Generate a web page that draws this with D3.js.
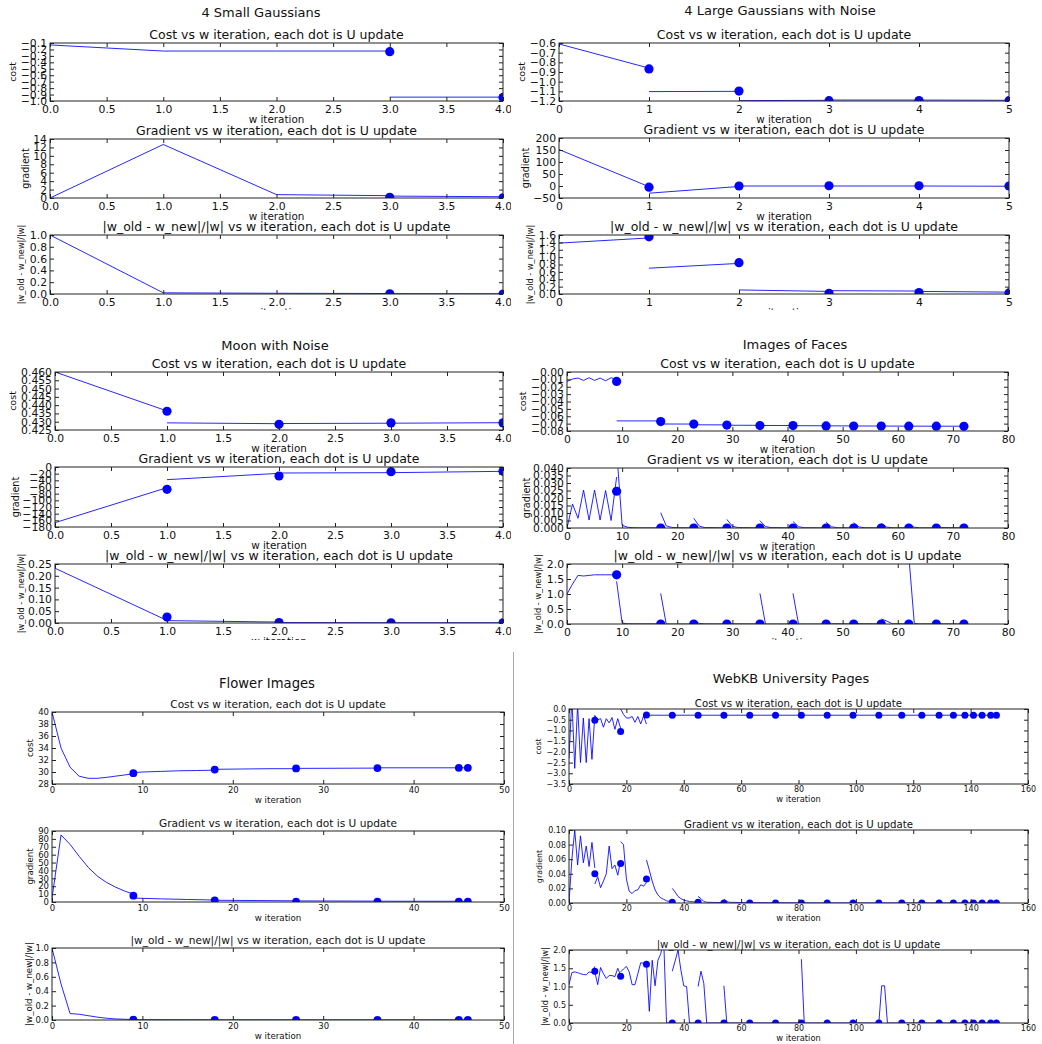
<!DOCTYPE html>
<html lang="en">
<head>
<meta charset="UTF-8">
<title>w iteration convergence</title>
<script src="https://d3js.org/d3.v7.min.js"></script>
<style>
  body { margin: 0; background: #fff; }
  svg { display: block; font-family: "DejaVu Sans", sans-serif; }
  .frame { fill: none; stroke: #222; stroke-width: 1; }
  .series { fill: none; stroke: #0000ff; stroke-width: 1; stroke-opacity: 0.85; }
  .dot { fill: #0000ff; }
  text { fill: #111; }
</style>
</head>
<body>
<svg id="chart" width="1042" height="1044"></svg>
<script>
const FONT = "DejaVu Sans, sans-serif";

const subTitles = [
  "Cost vs w iteration, each dot is U update",
  "Gradient vs w iteration, each dot is U update",
  "|w_old - w_new|/|w| vs w iteration, each dot is U update"
];
const yLabels = ["cost", "gradient", "|w_old - w_new|/|w|"];
const xLabel = "w iteration";

// x tick values
const xTicksHalf = [0, 0.5, 1, 1.5, 2, 2.5, 3, 3.5, 4];
const xTicksFive = [0, 1, 2, 3, 4, 5];
const xTicksFaces = [0, 10, 20, 30, 40, 50, 60, 70, 80];
const xTicksFlower = [0, 10, 20, 30, 40, 50];
const xTicksWeb = [0, 20, 40, 60, 80, 100, 120, 140, 160];

// ---- 4 Small Gaussians ----
const smallCostTicks = [-1.0, -0.9, -0.8, -0.7, -0.6, -0.5, -0.4, -0.3, -0.2, -0.1];
const smallCostLines = [
  [[0, -0.13], [1, -0.225], [2, -0.225], [3, -0.225]],
  [[3, -0.94], [4, -0.94]]
];
const smallCostDots = [[3, -0.235], [4, -0.945]];
const smallGradTicks = [0, 2, 4, 6, 8, 10, 12, 14];
const smallGradLines = [
  [[0, 0], [1, 12.7], [2, 0.8], [3, 0.55]],
  [[3, 0.45], [4, 0.3]]
];
const smallGradDots = [[3, 0.15], [4, 0.05]];
const unitTicks = [0, 0.2, 0.4, 0.6, 0.8, 1.0];
const smallDiffLines = [
  [[0, 1.0], [1, 0.02], [2, 0.012], [3, 0.008]],
  [[3, 0.006], [4, 0.004]]
];
const smallDiffDots = [[3, 0.004], [4, 0.0]];

// ---- 4 Large Gaussians with Noise ----
const largeCostTicks = [-1.2, -1.1, -1.0, -0.9, -0.8, -0.7, -0.6];
const largeCostLines = [
  [[0, -0.61], [1, -0.86]],
  [[1, -1.103], [2, -1.1]],
  [[2, -1.196], [3, -1.193]],
  [[3, -1.19], [4, -1.19]],
  [[4, -1.19], [5, -1.193]]
];
const largeCostDots = [[1, -0.868], [2, -1.097], [3, -1.197], [4, -1.196], [5, -1.197]];
const largeGradTicks = [-50, 0, 50, 100, 150, 200];
const largeGradLines = [
  [[0, 152], [1, -3]],
  [[1, -30], [2, -2]],
  [[2, 0], [3, 0]],
  [[3, 0], [4, 0]],
  [[4, 0], [5, -1]]
];
const largeGradDots = [[1, -5], [2, 0], [3, 1], [4, 1], [5, 0]];
const largeDiffTicks = [0, 0.2, 0.4, 0.6, 0.8, 1.0, 1.2, 1.4, 1.6];
const largeDiffLines = [
  [[0, 1.38], [1, 1.52]],
  [[1, 0.70], [2, 0.83]],
  [[2, 0.11], [3, 0.07]],
  [[3, 0.09], [4, 0.08]],
  [[4, 0.07], [5, 0.05]]
];
const largeDiffDots = [[1, 1.55], [2, 0.85], [3, 0.02], [4, 0.04], [5, 0.03]];

// ---- Moon with Noise ----
const moonCostTicks = [0.425, 0.430, 0.435, 0.440, 0.445, 0.450, 0.455, 0.460];
const moonCostLines = [
  [[0, 0.460], [1, 0.4365]],
  [[1, 0.4293], [2, 0.4288]],
  [[2, 0.4289], [3, 0.4291]],
  [[3, 0.4291], [4, 0.4294]]
];
const moonCostDots = [[1, 0.4363], [2, 0.4284], [3, 0.4293], [4, 0.4293]];
const moonGradTicks = [-180, -160, -140, -120, -100, -80, -60, -40, -20, 0];
const moonGradLines = [
  [[0, -167], [1, -62]],
  [[1, -38], [2, -19]],
  [[2, -18], [3, -17]],
  [[3, -17], [4, -13]]
];
const moonGradDots = [[1, -67], [2, -27], [3, -14], [4, -13]];
const moonDiffTicks = [0, 0.05, 0.10, 0.15, 0.20, 0.25];
const moonDiffLines = [
  [[0, 0.232], [1, 0.011]],
  [[1, 0.01], [2, 0.004]],
  [[2, 0.002], [3, 0.001]],
  [[3, 0.001], [4, 0.001]]
];
const moonDiffDots = [[1, 0.025], [2, 0.002], [3, 0.001], [4, 0.001]];

// ---- Images of Faces ----
const facesCostTicks = [-0.08, -0.07, -0.06, -0.05, -0.04, -0.03, -0.02, -0.01, 0.0];
const facesCostLines = [
  [[0, -0.0128], [1, -0.0095], [2, -0.0082], [3, -0.0114], [4, -0.0078], [5, -0.0114],
   [6, -0.0082], [7, -0.0119], [8, -0.0078], [9, -0.0100]],
  [[9, -0.0663], [17, -0.0663]],
  [[17, -0.0705], [23, -0.0706]],
  [[23, -0.0716], [29, -0.0717]],
  [[29, -0.0722], [35, -0.0723]],
  [[35, -0.0725], [41, -0.0726]],
  [[41, -0.0728], [47, -0.0729]],
  [[47, -0.0730], [52, -0.0731]],
  [[52, -0.0732], [57, -0.0732]],
  [[57, -0.0733], [62, -0.0734]],
  [[62, -0.0734], [67, -0.0735]],
  [[67, -0.0735], [72, -0.0735]]
];
const facesCostDots = [[9, -0.0128], [17, -0.0672], [23, -0.0706], [29, -0.0720], [35, -0.0726],
  [41, -0.0727], [47, -0.0731], [52, -0.0732], [57, -0.0732], [62, -0.0735], [67, -0.0735], [72, -0.0736]];
const facesGradTicks = [0, 0.005, 0.010, 0.015, 0.020, 0.025, 0.030, 0.035, 0.040];
const facesGradLines = [
  [[0, 0], [1, 0.016], [2, 0.0065], [3, 0.0253], [4, 0.0053], [5, 0.0253], [6, 0.0053],
   [7, 0.025], [8, 0.005], [9, 0.034]],
  [[9, 0.052], [10, 0.0018], [11, 0.0005], [12, 0.0002], [13, 0.0001], [17, 0.0001]],
  [[17, 0.0102], [18, 0.0015], [19, 0.0004], [20, 0.0002], [23, 0.0001]],
  [[23, 0.0065], [24, 0.0012], [25, 0.0003], [29, 0.0001]],
  [[29, 0.0057], [30, 0.0012], [31, 0.0003], [35, 0.0001]],
  [[35, 0.0049], [36, 0.0010], [37, 0.0003], [41, 0.0001]],
  [[41, 0.0043], [42, 0.0009], [43, 0.0002], [47, 0.0001]],
  [[47, 0.0038], [48, 0.0008], [49, 0.0002], [52, 0.0001]],
  [[52, 0.0035], [53, 0.0007], [54, 0.0002], [57, 0.0001]],
  [[57, 0.0030], [58, 0.0006], [59, 0.0002], [62, 0.0001]],
  [[62, 0.0024], [63, 0.0005], [64, 0.0001], [67, 0.0001]],
  [[67, 0.0015], [68, 0.0003], [72, 0.0001]]
];
const facesGradDots = [[9, 0.0245], [17, 0], [23, 0], [29, 0], [35, 0], [41, 0], [47, 0],
  [52, 0], [57, 0], [62, 0], [67, 0], [72, 0]];
const halfToTwoTicks = [0, 0.5, 1.0, 1.5, 2.0];
const facesDiffLines = [
  [[0, 1.0], [1, 1.33], [2, 1.62], [3, 1.6], [4, 1.62], [5, 1.64], [6, 1.64], [7, 1.64], [8, 1.64], [9, 1.64]],
  [[9, 1.42], [10, 0.03], [11, 0.01], [12, 0.005], [17, 0.005]],
  [[17, 1.02], [18, 0.0], [23, 0.0]],
  [[23, 0.1], [24, 0.02], [25, 0.005], [29, 0.003]],
  [[29, 0.02], [30, 0.005], [35, 0.003]],
  [[35, 1.02], [36, 0.0], [41, 0.0]],
  [[41, 1.02], [42, 0.0], [47, 0.0]],
  [[47, 0.05], [48, 0.01], [52, 0.005]],
  [[52, 0.06], [53, 0.01], [57, 0.005]],
  [[57, 0.17], [58, 0.1], [59, 0.01], [62, 0.005]],
  [[62, 2.3], [63, 0.02], [64, 0.005], [67, 0.005]],
  [[67, 0.02], [68, 0.005], [72, 0.003]]
];
const facesDiffDots = [[9, 1.64], [17, 0], [23, 0], [29, 0], [35, 0], [41, 0], [47, 0],
  [52, 0], [57, 0], [62, 0], [67, 0], [72, 0]];

// ---- Flower Images ----
const flowerCostTicks = [28, 30, 32, 34, 36, 38, 40];
const flowerCostLines = [
  [[0, 40], [1, 34], [2, 30.8], [3, 29.3], [4, 28.95], [5, 28.95], [6, 29.1], [7, 29.3], [8, 29.5], [9, 29.7]],
  [[9, 29.9], [10, 30.0], [12, 30.1], [14, 30.2], [16, 30.25], [18, 30.3]],
  [[18, 30.45], [21, 30.5], [24, 30.55], [27, 30.55]],
  [[27, 30.6], [36, 30.65]],
  [[36, 30.7], [45, 30.7]],
  [[45, 30.7], [46, 30.7]]
];
const flowerCostDots = [[9, 29.8], [18, 30.4], [27, 30.6], [36, 30.65], [45, 30.7], [46, 30.7]];
const flowerGradTicks = [0, 10, 20, 30, 40, 50, 60, 70, 80, 90];
const flowerGradLines = [
  [[0, 5], [1, 85], [2, 73], [3, 58], [4, 44], [5, 33], [6, 25], [7, 19], [8, 14], [9, 10]],
  [[9, 5], [12, 4], [15, 3.2], [18, 2.5]],
  [[18, 2.2], [27, 1.5]],
  [[27, 1.4], [36, 1.1]],
  [[36, 1.0], [45, 0.9]],
  [[45, 0.8], [46, 0.8]]
];
const flowerGradDots = [[9, 8], [18, 2], [27, 0.5], [36, 0.5], [45, 0.3], [46, 0.3]];
const flowerDiffLines = [
  [[0, 1.0], [1, 0.5], [2, 0.09], [3, 0.08], [4, 0.06], [5, 0.04], [6, 0.025], [7, 0.015], [8, 0.01], [9, 0.008]],
  [[9, 0.005], [18, 0.003]],
  [[18, 0.003], [27, 0.002]],
  [[27, 0.002], [36, 0.002]],
  [[36, 0.002], [45, 0.002]],
  [[45, 0.002], [46, 0.002]]
];
const flowerDiffDots = [[9, 0.006], [18, 0.003], [27, 0.002], [36, 0.002], [45, 0.002], [46, 0.002]];

// ---- WebKB University Pages ----
const webCostTicks = [-3.5, -3.0, -2.5, -2.0, -1.5, -1.0, -0.5, 0.0];
const webCostLines = [
  [[0, -2.3], [1, 0.5], [2, -2.77], [3, 0.2], [4, -2.5], [5, -0.42], [6, -2.5], [7, -0.45], [8, -2.35], [9, -0.3]],
  [[9, -0.3], [10, -0.5], [11, -0.45], [12, -0.85], [13, -0.45], [14, -0.65], [15, -0.4], [16, -0.95], [17, -0.45], [18, -0.9]],
  [[18, 0.0], [19, -0.25], [20, -0.42], [21, -0.42], [22, -0.35], [23, -0.62], [24, -0.35], [25, -0.7], [26, -0.32], [27, -0.7]],
  [[27, -0.29], [36, -0.29], [45, -0.29], [54, -0.29], [63, -0.29], [72, -0.29], [81, -0.29], [90, -0.29],
   [99, -0.29], [108, -0.29], [116, -0.29], [123, -0.29], [129, -0.29], [134, -0.29], [138, -0.29],
   [141, -0.29], [144, -0.29], [147, -0.29], [149, -0.29]]
];
const webCostDots = [[9, -0.53], [18, -1.05], [27, -0.28], [36, -0.29], [45, -0.29], [54, -0.29], [63, -0.29],
  [72, -0.29], [81, -0.29], [90, -0.29], [99, -0.29], [108, -0.29], [116, -0.29], [123, -0.29], [129, -0.29],
  [134, -0.29], [138, -0.29], [141, -0.29], [144, -0.29], [147, -0.29], [149, -0.29]];
const webGradTicks = [0, 0.02, 0.04, 0.06, 0.08, 0.10];
const webGradLines = [
  [[0, 0], [1, 0.06], [2, 0.10], [3, 0.052], [4, 0.092], [5, 0.055], [6, 0.078], [7, 0.05], [8, 0.083], [9, 0.048]],
  [[9, 0.026], [10, 0.036], [11, 0.021], [12, 0.03], [13, 0.04], [14, 0.078], [15, 0.047], [16, 0.052], [17, 0.038], [18, 0.058]],
  [[18, 0.084], [19, 0.08], [20, 0.033], [21, 0.016], [22, 0.013], [23, 0.017], [24, 0.018], [25, 0.025], [26, 0.023], [27, 0.028]],
  [[27, 0.059], [28, 0.045], [29, 0.03], [30, 0.018], [31, 0.011], [32, 0.007], [33, 0.005], [34, 0.003], [35, 0.002], [36, 0.002]],
  [[36, 0.02], [37, 0.015], [38, 0.009], [39, 0.006], [40, 0.004], [41, 0.003], [42, 0.002], [45, 0.001]],
  [[45, 0.009], [46, 0.006], [47, 0.002], [48, 0.001], [54, 0.0005]],
  [[54, 0.005], [55, 0.002], [56, 0.001], [63, 0.0003]],
  [[63, 0.0005], [72, 0.0003], [81, 0.0002], [90, 0.0001], [149, 0.0001]]
];
const webGradDots = [[9, 0.04], [18, 0.054], [27, 0.033], [36, 0.001], [45, 0.001], [54, 0], [63, 0],
  [72, 0], [81, 0], [90, 0], [99, 0], [108, 0], [116, 0], [123, 0], [129, 0], [134, 0], [138, 0],
  [141, 0], [144, 0], [147, 0], [149, 0]];
const webDiffLines = [
  [[0, 1.05], [1, 1.38], [2, 1.4], [3, 1.38], [4, 1.35], [5, 1.33], [6, 1.32], [7, 1.4], [8, 1.38], [9, 1.55]],
  [[9, 1.4], [10, 1.05], [11, 1.52], [12, 1.35], [13, 1.22], [14, 1.3], [15, 1.3], [16, 1.27], [17, 1.5], [18, 1.3]],
  [[18, 1.4], [19, 1.48], [20, 1.55], [21, 1.4], [22, 1.05], [23, 1.05], [24, 1.35], [25, 1.65], [26, 1.64], [27, 1.62]],
  [[27, 1.66], [28, 0.32], [29, 1.72], [30, 1.02], [31, 1.72], [32, 1.9], [33, 2.3], [34, 0.0], [35, 0.0], [36, 0.0]],
  [[36, 1.42], [37, 1.7], [38, 2.0], [39, 1.45], [40, 1.02], [41, 1.0], [42, 0.0], [43, 0.0], [45, 0.0]],
  [[45, 1.0], [46, 1.42], [47, 1.08], [48, 0.0], [54, 0.0]],
  [[54, 1.02], [55, 0.0], [63, 0.0], [72, 0.0], [81, 0.0]],
  [[81, 1.75], [82, 0.0], [90, 0.0], [99, 0.0], [108, 0.0]],
  [[108, 0.0], [109, 1.02], [110, 1.02], [111, 0.0], [116, 0.0]],
  [[116, 0.0], [123, 0.0], [129, 0.0], [134, 0.0], [138, 0.0], [141, 0.0], [144, 0.0], [147, 0.0], [149, 0.0]]
];
const webDiffDots = [[9, 1.42], [18, 1.28], [27, 1.61], [36, 0], [45, 0], [54, 0], [63, 0],
  [72, 0], [81, 0], [90, 0], [99, 0], [108, 0], [116, 0], [123, 0], [129, 0], [134, 0], [138, 0],
  [141, 0], [144, 0], [147, 0], [149, 0]];

// ---- layout (positions, sizes) ----
const topFonts = { title: 13, sub: 12.5, tick: 10.8, xlabel: 10.4, tickGap: 11.5, xlabelGap: 22, subGap: 4, r: 4.6 };
const flowerFonts = { title: 13.2, sub: 10.6, tick: 8.5, xlabel: 8.7, tickGap: 9, xlabelGap: 19, subGap: 4, r: 3.9 };
const webFonts = { title: 12.9, sub: 10.2, tick: 8, xlabel: 8.3, tickGap: 8, xlabelGap: 18, subGap: 2, r: 3.5 };

const panels = [
  { title: "4 Small Gaussians", tx: 261, ty: 17, clip: [0, 0, 511, 310], x0: 50, x1: 503,
    xDomain: [0, 4], xTicks: xTicksHalf, xFmt: ".1f", fonts: topFonts,
    rows: [
      { top: 43, bottom: 101, yDomain: [-1.0, -0.1], yTicks: smallCostTicks, yFmt: ".1f", lines: smallCostLines, dots: smallCostDots, lx: 13, ls: 9.5 },
      { top: 139, bottom: 198, yDomain: [0, 14], yTicks: smallGradTicks, yFmt: "d", lines: smallGradLines, dots: smallGradDots, lx: 26, ls: 9.6 },
      { top: 235, bottom: 294, yDomain: [0, 1], yTicks: unitTicks, yFmt: ".1f", lines: smallDiffLines, dots: smallDiffDots, lx: 21, ls: 8.2 }
    ] },
  { title: "4 Large Gaussians with Noise", tx: 780, ty: 15, clip: [512, 0, 1042, 310], x0: 559, x1: 1009,
    xDomain: [0, 5], xTicks: xTicksFive, xFmt: "d", fonts: topFonts,
    rows: [
      { top: 43, bottom: 101, yDomain: [-1.2, -0.6], yTicks: largeCostTicks, yFmt: ".1f", lines: largeCostLines, dots: largeCostDots, lx: 522, ls: 9.5 },
      { top: 138, bottom: 198, yDomain: [-50, 200], yTicks: largeGradTicks, yFmt: "d", lines: largeGradLines, dots: largeGradDots, lx: 526, ls: 9.6 },
      { top: 235, bottom: 294, yDomain: [0, 1.6], yTicks: largeDiffTicks, yFmt: ".1f", lines: largeDiffLines, dots: largeDiffDots, lx: 530, ls: 8.2 }
    ] },
  { title: "Moon with Noise", tx: 275, ty: 350, clip: [0, 320, 511, 640], x0: 55, x1: 503,
    xDomain: [0, 4], xTicks: xTicksHalf, xFmt: ".1f", fonts: topFonts,
    rows: [
      { top: 372, bottom: 430, yDomain: [0.425, 0.460], yTicks: moonCostTicks, yFmt: ".3f", lines: moonCostLines, dots: moonCostDots, lx: 13, ls: 9.5 },
      { top: 467, bottom: 527, yDomain: [-180, 0], yTicks: moonGradTicks, yFmt: "d", lines: moonGradLines, dots: moonGradDots, lx: 16, ls: 9.6 },
      { top: 564, bottom: 623, yDomain: [0, 0.25], yTicks: moonDiffTicks, yFmt: ".2f", lines: moonDiffLines, dots: moonDiffDots, lx: 21, ls: 8.2 }
    ] },
  { title: "Images of Faces", tx: 795, ty: 349, clip: [512, 320, 1042, 640], x0: 567, x1: 1008,
    xDomain: [0, 80], xTicks: xTicksFaces, xFmt: "d", fonts: topFonts,
    rows: [
      { top: 372, bottom: 431, yDomain: [-0.08, 0], yTicks: facesCostTicks, yFmt: ".2f", lines: facesCostLines, dots: facesCostDots, lx: 523, ls: 9.5 },
      { top: 468, bottom: 528, yDomain: [0, 0.04], yTicks: facesGradTicks, yFmt: ".3f", lines: facesGradLines, dots: facesGradDots, lx: 527, ls: 9.6 },
      { top: 564, bottom: 624, yDomain: [0, 2], yTicks: halfToTwoTicks, yFmt: ".1f", lines: facesDiffLines, dots: facesDiffDots, lx: 538, ls: 8.2 }
    ] },
  { title: "Flower Images", tx: 267, ty: 688, clip: [0, 650, 513, 1044], x0: 52, x1: 504,
    xDomain: [0, 50], xTicks: xTicksFlower, xFmt: "d", fonts: flowerFonts,
    rows: [
      { top: 712, bottom: 784, yDomain: [28, 40], yTicks: flowerCostTicks, yFmt: "d", lines: flowerCostLines, dots: flowerCostDots, lx: 30, ls: 8.6 },
      { top: 831, bottom: 902, yDomain: [0, 90], yTicks: flowerGradTicks, yFmt: "d", lines: flowerGradLines, dots: flowerGradDots, lx: 30, ls: 8.6 },
      { top: 948, bottom: 1020, yDomain: [0, 1], yTicks: unitTicks, yFmt: ".1f", lines: flowerDiffLines, dots: flowerDiffDots, lx: 29, ls: 8.6 }
    ] },
  { title: "WebKB University Pages", tx: 791, ty: 683, clip: [514, 650, 1042, 1044], x0: 569, x1: 1028,
    xDomain: [0, 160], xTicks: xTicksWeb, xFmt: "d", fonts: webFonts,
    rows: [
      { top: 709, bottom: 784, yDomain: [-3.5, 0], yTicks: webCostTicks, yFmt: ".1f", lines: webCostLines, dots: webCostDots, lx: 538, ls: 7.8 },
      { top: 830, bottom: 903, yDomain: [0, 0.1], yTicks: webGradTicks, yFmt: ".2f", lines: webGradLines, dots: webGradDots, lx: 539, ls: 7.9 },
      { top: 950, bottom: 1023, yDomain: [0, 2], yTicks: halfToTwoTicks, yFmt: ".1f", lines: webDiffLines, dots: webDiffDots, lx: 545, ls: 8.1 }
    ] }
];

const svg = d3.select("#chart");
const defs = svg.append("defs");
const TICK = 4;

// thin grey rule between the two bottom figures
svg.append("line")
  .attr("x1", 513.5).attr("x2", 513.5)
  .attr("y1", 652).attr("y2", 1044)
  .attr("stroke", "#a8a8a8").attr("stroke-width", 1);

panels.forEach((p, pi) => {
  const f = p.fonts;
  const [cx0, cy0, cx1, cy1] = p.clip;
  defs.append("clipPath").attr("id", `panel-${pi}`)
    .append("rect").attr("x", cx0).attr("y", cy0).attr("width", cx1 - cx0).attr("height", cy1 - cy0);
  const pg = svg.append("g").attr("clip-path", `url(#panel-${pi})`);

  pg.append("text")
    .attr("x", p.tx).attr("y", p.ty)
    .attr("text-anchor", "middle")
    .attr("font-size", f.title)
    .text(p.title);

  const x = d3.scaleLinear().domain(p.xDomain).range([p.x0, p.x1]);
  const xFormat = d3.format(p.xFmt);

  p.rows.forEach((r, ri) => {
    const y = d3.scaleLinear().domain(r.yDomain).range([r.bottom, r.top]);
    const yFormat = d3.format(r.yFmt);
    const g = pg.append("g");

    // plot area, clipped to the axes like matplotlib
    const cid = `axes-${pi}-${ri}`;
    defs.append("clipPath").attr("id", cid)
      .append("rect").attr("x", p.x0).attr("y", r.top)
      .attr("width", p.x1 - p.x0).attr("height", r.bottom - r.top);
    const plot = g.append("g").attr("clip-path", `url(#${cid})`);

    const line = d3.line().x(d => x(d[0])).y(d => y(d[1]));
    plot.selectAll("path.series").data(r.lines).join("path")
      .attr("class", "series")
      .attr("d", line);
    plot.selectAll("circle.dot").data(r.dots).join("circle")
      .attr("class", "dot")
      .attr("cx", d => x(d[0]))
      .attr("cy", d => y(d[1]))
      .attr("r", f.r);

    // axes: inward ticks on all four sides
    const styleAxis = sel => sel
      .attr("font-family", FONT)
      .attr("font-size", f.tick)
      .attr("color", "#222")
      .call(s => s.select(".domain").remove());

    g.append("g")
      .attr("transform", `translate(0,${r.bottom})`)
      .call(d3.axisBottom(x).tickValues(p.xTicks).tickFormat(xFormat)
        .tickSize(-TICK).tickPadding(f.tickGap - 0.71 * f.tick))
      .call(styleAxis);
    g.append("g")
      .attr("transform", `translate(0,${r.top})`)
      .call(d3.axisTop(x).tickValues(p.xTicks).tickFormat("").tickSize(-TICK))
      .call(styleAxis);
    g.append("g")
      .attr("transform", `translate(${p.x0},0)`)
      .call(d3.axisLeft(y).tickValues(r.yTicks).tickFormat(yFormat).tickSize(-TICK).tickPadding(3))
      .call(styleAxis);
    g.append("g")
      .attr("transform", `translate(${p.x1},0)`)
      .call(d3.axisRight(y).tickValues(r.yTicks).tickFormat("").tickSize(-TICK))
      .call(styleAxis);
    g.selectAll(".tick text").attr("fill", "#111");

    g.append("rect")
      .attr("class", "frame")
      .attr("x", p.x0).attr("y", r.top)
      .attr("width", p.x1 - p.x0).attr("height", r.bottom - r.top);

    // subplot title, x label, y label
    g.append("text")
      .attr("x", (p.x0 + p.x1) / 2).attr("y", r.top - f.subGap)
      .attr("text-anchor", "middle")
      .attr("font-size", f.sub)
      .text(subTitles[ri]);
    g.append("text")
      .attr("x", (p.x0 + p.x1) / 2).attr("y", r.bottom + f.xlabelGap)
      .attr("text-anchor", "middle")
      .attr("font-size", f.xlabel)
      .text(xLabel);
    g.append("text")
      .attr("transform", `translate(${r.lx},${(r.top + r.bottom) / 2}) rotate(-90)`)
      .attr("text-anchor", "middle")
      .attr("dy", "0.35em")
      .attr("font-size", r.ls)
      .text(yLabels[ri]);
  });
});
</script>
</body>
</html>
